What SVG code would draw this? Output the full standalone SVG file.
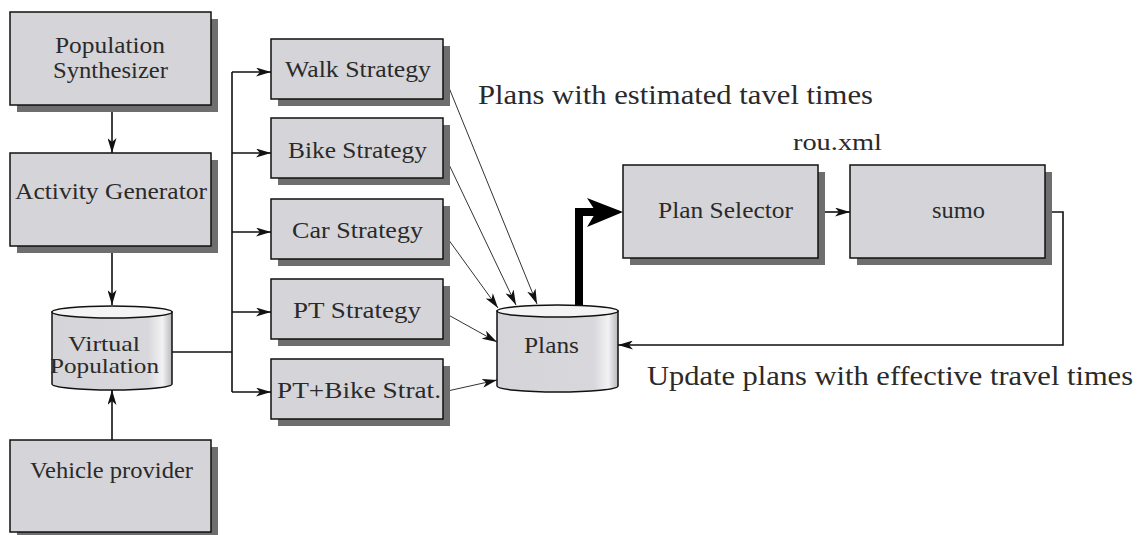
<svg xmlns="http://www.w3.org/2000/svg" width="1140" height="535" viewBox="0 0 1140 535">
<style>
.box{fill:#d5d5d9;stroke:#111;stroke-width:1.5}
.sh{fill:#6e6e6e}
.lbl{font-size:23px;fill:#2a2a2a}
.ann{font-size:27px;fill:#2a2a2a}
.con{fill:none;stroke:#111;stroke-width:1.6}
.thin{fill:none;stroke:#333;stroke-width:1}
.top{fill:#f4f4f4;stroke:#111;stroke-width:1.5}
</style>
<defs>
<marker id="ah" viewBox="0 0 15 9" refX="15" refY="4.5" markerWidth="15" markerHeight="9" markerUnits="userSpaceOnUse" orient="auto">
<path d="M0,0 L15,4.5 L0,9 L4,4.5 Z" fill="#111"/>
</marker>
<linearGradient id="cyl" x1="0" y1="0" x2="1" y2="0">
<stop offset="0" stop-color="#d5d5d9"/>
<stop offset="0.8" stop-color="#d8d8dc"/>
<stop offset="0.92" stop-color="#f2f2f4"/>
<stop offset="1" stop-color="#b8b8bc"/>
</linearGradient>
</defs>

<g id="connectors">
<line class="con" x1="112" y1="105" x2="112" y2="153" marker-end="url(#ah)"/>
<line class="con" x1="112" y1="246" x2="112" y2="305" marker-end="url(#ah)"/>
<line class="con" x1="112" y1="440" x2="112" y2="390" marker-end="url(#ah)"/>
<polyline class="con" points="172,352 232,352"/>
<line class="con" x1="232" y1="72" x2="232" y2="392"/>
<line class="con" x1="232" y1="72" x2="271" y2="72" marker-end="url(#ah)"/>
<line class="con" x1="232" y1="153" x2="271" y2="153" marker-end="url(#ah)"/>
<line class="con" x1="232" y1="232" x2="271" y2="232" marker-end="url(#ah)"/>
<line class="con" x1="232" y1="312" x2="271" y2="312" marker-end="url(#ah)"/>
<line class="con" x1="232" y1="392" x2="271" y2="392" marker-end="url(#ah)"/>
<line class="thin" x1="443" y1="73" x2="537" y2="304" marker-end="url(#ah)"/>
<line class="thin" x1="443" y1="152" x2="516" y2="305" marker-end="url(#ah)"/>
<line class="thin" x1="443" y1="232" x2="498" y2="308" marker-end="url(#ah)"/>
<line class="thin" x1="443" y1="312" x2="497" y2="342" marker-end="url(#ah)"/>
<line class="thin" x1="443" y1="392" x2="497" y2="380" marker-end="url(#ah)"/>
<polyline fill="none" stroke="#000" stroke-width="8" points="579,306 579,212 596,212"/>
<path d="M623,212 L587,198 L596,212 L587,227 Z" fill="#000"/>
<line class="con" x1="818" y1="212" x2="850" y2="212" marker-end="url(#ah)"/>
<polyline class="con" points="1045,212 1063,212 1063,345 618,345" marker-end="url(#ah)"/>
</g>

<g font-family="'Liberation Serif', 'Times New Roman', 'DejaVu Serif', serif">
<g id="population-synthesizer">
<rect class="sh" x="17" y="19" width="201" height="93"/>
<rect class="box" x="10" y="12" width="201" height="93"/>
<text class="lbl" x="55" y="53" textLength="110" lengthAdjust="spacingAndGlyphs">Population</text>
<text class="lbl" x="53" y="78" textLength="115" lengthAdjust="spacingAndGlyphs">Synthesizer</text>
</g>

<g id="activity-generator">
<rect class="sh" x="17" y="160" width="201" height="93"/>
<rect class="box" x="10" y="153" width="201" height="93"/>
<text class="lbl" x="15" y="199" textLength="192" lengthAdjust="spacingAndGlyphs">Activity Generator</text>
</g>

<g id="virtual-population">
<path d="M52,312 L52,384 A60,6 0 0 0 172,384 L172,312 Z" fill="url(#cyl)" stroke="#111" stroke-width="1.5"/>
<ellipse class="top" cx="112" cy="312" rx="60" ry="6"/>
<text class="lbl" x="68" y="351" textLength="72" lengthAdjust="spacingAndGlyphs" style="font-size:21px">Virtual</text>
<text class="lbl" x="50" y="373" textLength="109" lengthAdjust="spacingAndGlyphs" style="font-size:21px">Population</text>
</g>

<g id="vehicle-provider">
<rect class="sh" x="17" y="447" width="201" height="92"/>
<rect class="box" x="10" y="440" width="201" height="92"/>
<text class="lbl" x="30" y="478" textLength="163" lengthAdjust="spacingAndGlyphs">Vehicle provider</text>
</g>

<g id="walk-strategy">
<rect class="sh" x="278" y="46" width="172" height="60"/>
<rect class="box" x="271" y="39" width="172" height="60"/>
<text class="lbl" x="285" y="77" textLength="146" lengthAdjust="spacingAndGlyphs">Walk Strategy</text>
</g>

<g id="bike-strategy">
<rect class="sh" x="278" y="125" width="172" height="60"/>
<rect class="box" x="271" y="118" width="172" height="60"/>
<text class="lbl" x="288" y="158" textLength="139" lengthAdjust="spacingAndGlyphs">Bike Strategy</text>
</g>

<g id="car-strategy">
<rect class="sh" x="278" y="206" width="172" height="60"/>
<rect class="box" x="271" y="199" width="172" height="60"/>
<text class="lbl" x="292" y="238" textLength="131" lengthAdjust="spacingAndGlyphs">Car Strategy</text>
</g>

<g id="pt-strategy">
<rect class="sh" x="278" y="286" width="172" height="60"/>
<rect class="box" x="271" y="279" width="172" height="60"/>
<text class="lbl" x="293" y="318" textLength="128" lengthAdjust="spacingAndGlyphs">PT Strategy</text>
</g>

<g id="pt-bike-strategy">
<rect class="sh" x="278" y="366" width="172" height="60"/>
<rect class="box" x="271" y="359" width="172" height="60"/>
<text class="lbl" x="277" y="398" textLength="164" lengthAdjust="spacingAndGlyphs">PT+Bike Strat.</text>
</g>

<g id="plans">
<path d="M497,311 L497,386 A60.5,6 0 0 0 618,386 L618,311 Z" fill="url(#cyl)" stroke="#111" stroke-width="1.5"/>
<ellipse class="top" cx="557.5" cy="311" rx="60.5" ry="6"/>
<text class="lbl" x="524" y="353" textLength="55" lengthAdjust="spacingAndGlyphs">Plans</text>
</g>

<g id="plan-selector">
<rect class="sh" x="630" y="172" width="195" height="93"/>
<rect class="box" x="623" y="165" width="195" height="93"/>
<text class="lbl" x="658" y="218" textLength="135" lengthAdjust="spacingAndGlyphs">Plan Selector</text>
</g>

<g id="sumo">
<rect class="sh" x="857" y="172" width="195" height="93"/>
<rect class="box" x="850" y="165" width="195" height="93"/>
<text class="lbl" x="932" y="218" textLength="53" lengthAdjust="spacingAndGlyphs">sumo</text>
</g>

<g id="labels">
<text class="ann" x="478" y="104" textLength="395" lengthAdjust="spacingAndGlyphs">Plans with estimated tavel times</text>
<text class="ann" x="793" y="150" textLength="89" lengthAdjust="spacingAndGlyphs" style="font-size:24px">rou.xml</text>
<text class="ann" x="647" y="385" textLength="486" lengthAdjust="spacingAndGlyphs">Update plans with effective travel times</text>
</g>
</g>
</svg>
